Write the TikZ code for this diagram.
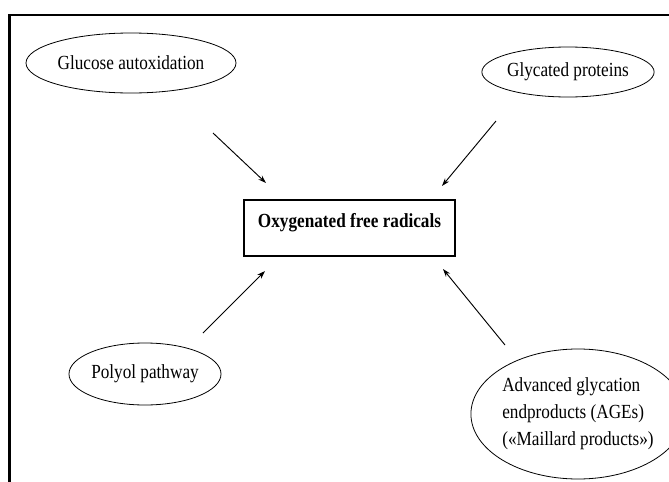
\documentclass[tikz,border=0pt]{standalone}
\usepackage{fontspec}
\setmainfont{Liberation Serif}[FakeStretch=0.86]
\usetikzlibrary{shapes.geometric,arrows.meta}
\tikzset{
  source/.style={draw, ellipse, line width=0.6pt, inner sep=0pt,
    font=\fontsize{15pt}{20.25pt}\selectfont},
  target/.style={draw, rectangle, line width=0.9pt, inner sep=0pt,
    font=\fontsize{15pt}{20.25pt}\selectfont\bfseries},
  feed/.style={line width=0.7pt, -{Stealth[length=6pt,width=4pt]}}
}
\begin{document}
\begin{tikzpicture}[x=0.75pt, y=-0.75pt]
  \useasboundingbox (0,0) rectangle (669,482);
  % Frame
  \draw[line width=1.9pt] (9.5,482) -- (9.5,15) -- (669,15);
  % Central box
  \node[target, minimum width=158.25pt, text height=20.25pt, text depth=21.75pt] (ofr) at (349.5,228) {Oxygenated free radicals};
  % Sources
  \node[source, minimum width=157.5pt, minimum height=45pt] (glu) at (131,63) {Glucose autoxidation};
  \node[source, minimum width=110.25pt, minimum height=37.5pt] (gly) at (568,72) {Glycated proteins};
  \node[source, minimum width=104.25pt, minimum height=46.5pt] (pol) at (145,374) {Polyol pathway};
  \node[source, minimum width=135pt, minimum height=97.5pt, align=left] (age) at (578,414)
    {Advanced glycation\\endproducts (AGEs)\\(«Maillard products»)};
  % Arrow ends
  \coordinate (glu-s) at (213,133);
  \coordinate (glu-e) at (266,183);
  \coordinate (gly-s) at (496,121);
  \coordinate (gly-e) at (442,186);
  \coordinate (pol-s) at (203,333);
  \coordinate (pol-e) at (265,271);
  \coordinate (age-s) at (505,345);
  \coordinate (age-e) at (443,269);
  % Arrows
  \draw[feed] (glu-s) -- (glu-e);
  \draw[feed] (gly-s) -- (gly-e);
  \draw[feed] (pol-s) -- (pol-e);
  \draw[feed] (age-s) -- (age-e);
\end{tikzpicture}
\end{document}
